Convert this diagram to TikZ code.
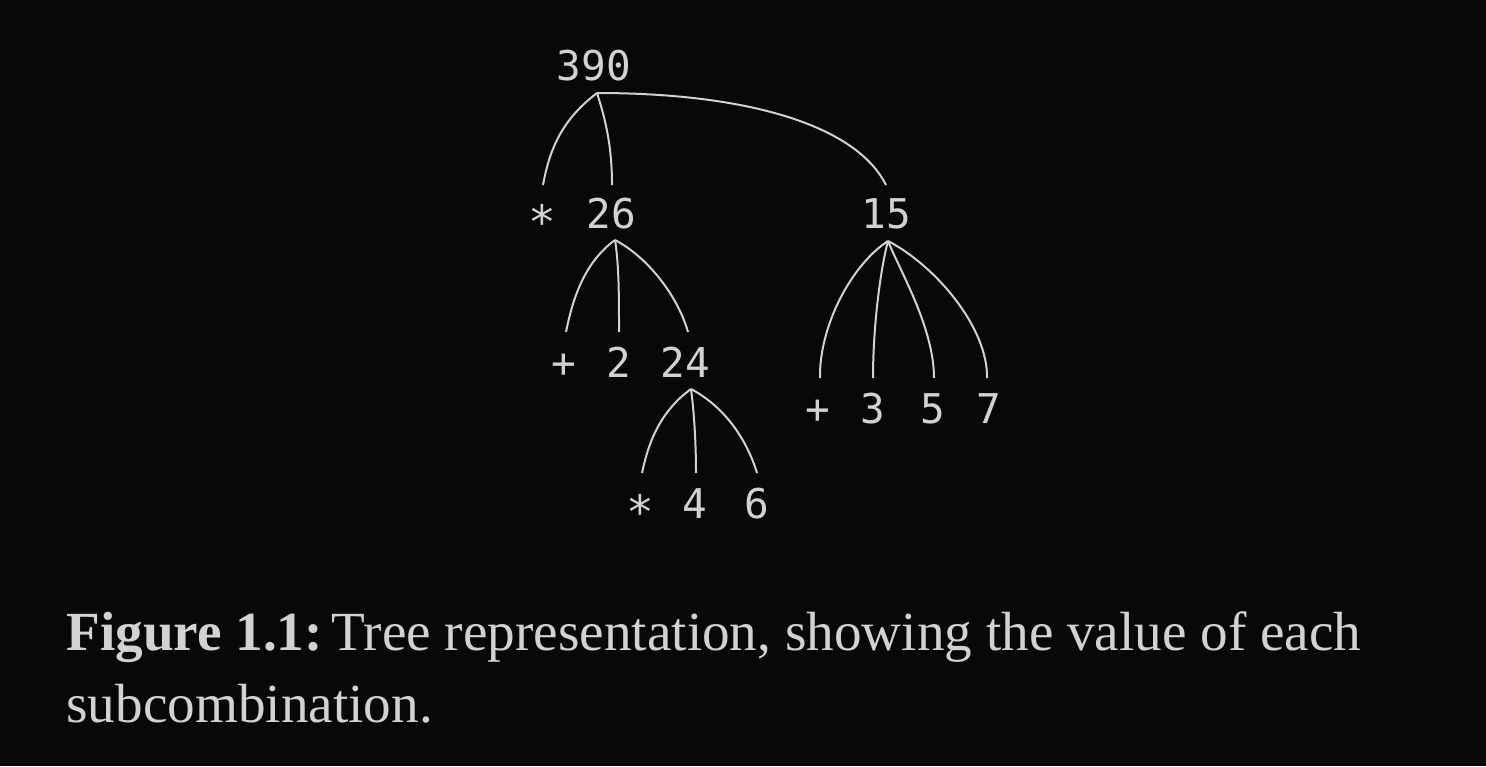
\documentclass[tikz,border=0pt]{standalone}
\usepackage{fontspec}
\setmainfont{Liberation Serif}
\newfontfamily\treemono{DejaVu Sans Mono}
\definecolor{bg}{HTML}{080808}
\definecolor{fg}{HTML}{D2D2D2}
\begin{document}
\begin{tikzpicture}[x=0.5pt,y=-0.5pt,
  tok/.style={anchor=base, inner sep=0pt, font=\treemono\fontsize{20.5}{24}\selectfont, text=fg},
  star/.style={tok, font=\treemono\fontsize{23}{24}\selectfont},
  branch/.style={draw=fg, line width=1pt},
  captext/.style={anchor=base west, inner sep=0pt, font=\fontsize{27.6}{30}\selectfont, text=fg}]
\fill[bg] (0,0) rectangle (1486,766);
\useasboundingbox (0,0) rectangle (1486,766);
% tokens
\node[tok] (n390) at (594,80) {390};
\node[star] (mul1) at (542,238) {*};
\node[tok] (n26) at (611,228) {26};
\node[tok] (n15) at (886,228) {15};
\node[tok] (plus1) at (564,377) {+};
\node[tok] (n2) at (619,377) {2};
\node[tok] (n24) at (685,377) {24};
\node[star] (mul2) at (640,528) {*};
\node[tok] (n4) at (695,518) {4};
\node[tok] (n6) at (757,518) {6};
\node[tok] (plus2) at (818,423) {+};
\node[tok] (n3) at (873,423) {3};
\node[tok] (n5) at (933,423) {5};
\node[tok] (n7) at (989,423) {7};
% branch points
\coordinate (r) at (597,93);
\coordinate (a1) at (543,185);
\coordinate (a2) at (612,185);
\coordinate (a3) at (886,185);
\coordinate (b) at (615,240);
\coordinate (b1) at (566,332);
\coordinate (b2) at (619,332);
\coordinate (b3) at (688,332);
\coordinate (c) at (691,389);
\coordinate (c1) at (642,473);
\coordinate (c2) at (696,473);
\coordinate (c3) at (757,473);
\coordinate (d) at (888,241);
\coordinate (d1) at (820,378);
\coordinate (d2) at (873,378);
\coordinate (d3) at (934,378);
\coordinate (d4) at (987,378);
% edges
\draw[branch] (r) .. controls +(-34,26) and +(7,-38) .. (a1);
\draw[branch] (r) .. controls +(8,25) and +(0,-40) .. (a2);
\draw[branch] (r) .. controls +(150,0) and +(-30,-60) .. (a3);
\draw[branch] (b) .. controls +(-30,22) and +(7,-35) .. (b1);
\draw[branch] (b) .. controls +(4,25) and +(0,-35) .. (b2);
\draw[branch] (b) .. controls +(34,18) and +(-10,-35) .. (b3);
\draw[branch] (c) .. controls +(-30,22) and +(7,-33) .. (c1);
\draw[branch] (c) .. controls +(3,22) and +(0,-30) .. (c2);
\draw[branch] (c) .. controls +(34,18) and +(-10,-33) .. (c3);
\draw[branch] (d) .. controls +(-38,25) and +(-1,-50) .. (d1);
\draw[branch] (d) .. controls +(-8,30) and +(0,-50) .. (d2);
\draw[branch] (d) .. controls +(12,30) and +(0,-50) .. (d3);
\draw[branch] (d) .. controls +(48,25) and +(1,-50) .. (d4);
% caption
\node[captext] (cap1) at (66,650) {\textbf{Figure 1.1:}\kern 4.5pt Tree representation, showing the value of each};
\node[captext] (cap2) at (66,722) {subcombination.};
\end{tikzpicture}
\end{document}
